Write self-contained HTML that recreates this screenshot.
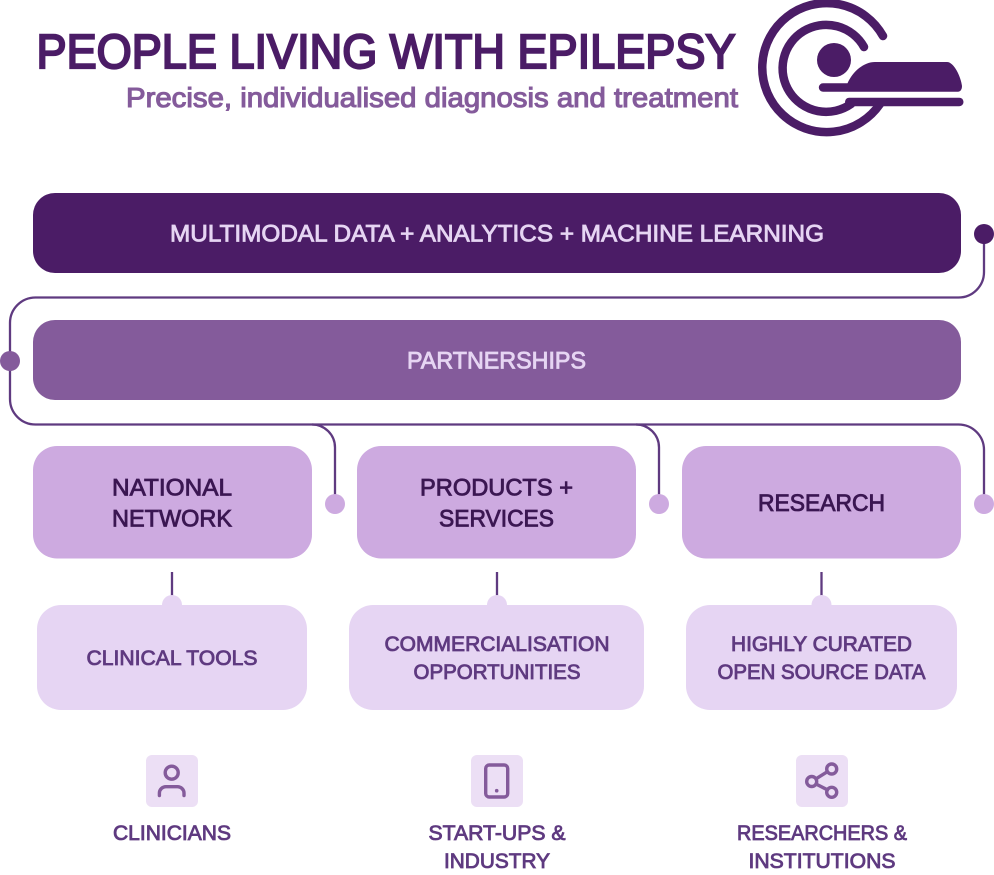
<!DOCTYPE html>
<html><head><meta charset="utf-8"><style>
html,body{margin:0;padding:0;background:#fff;width:994px;height:875px;overflow:hidden}
svg{display:block}
text{font-family:"Liberation Sans",sans-serif;text-anchor:middle}
.m{font-weight:400;stroke-width:.85px}
</style></head><body>
<svg width="994" height="875" viewBox="0 0 994 875" xmlns="http://www.w3.org/2000/svg">
<rect width="994" height="875" fill="#fff"/>
<text x="386" y="68" font-size="48.500" font-weight="400" fill="#4b1c66" stroke="#4b1c66" stroke-width="2.200" textLength="699" lengthAdjust="spacingAndGlyphs">PEOPLE LIVING WITH EPILEPSY</text>
<text x="432" y="107" font-size="27.500" font-weight="400" fill="#845b9b" stroke="#845b9b" stroke-width="1.100" textLength="612" lengthAdjust="spacingAndGlyphs">Precise, individualised diagnosis and treatment</text>
<!-- logo -->
<g fill="none" stroke="#4b1c66" stroke-width="8.500" stroke-linecap="round">
<path d="M883 36A64.500 64.500 0 1 0 880 104"/>
<path d="M864 47A43.500 43.500 0 1 0 851 104"/>
</g>
<circle cx="834" cy="60" r="17" fill="#4b1c66"/>
<path d="M823 83.300H847.500C853 71 864 62 875 62H947C954 62 961 77 962 86C962 90 960 91.700 958 91.700H823A4.200 4.200 0 0 1 823 83.300Z" fill="#4b1c66"/>
<rect x="845" y="97.700" width="118.500" height="8.500" rx="4.200" fill="#4b1c66"/>
<!-- connectors -->
<g fill="none" stroke="#5f3a80" stroke-width="2.300">
<path d="M984 234V272A25.500 25.500 0 0 1 958.500 297.500H35.500A25.500 25.500 0 0 0 10 323V399A25.500 25.500 0 0 0 35.500 424.500H958.500A25.500 25.500 0 0 1 984 450V504"/>
<path d="M312 424.500A23 23 0 0 1 335 447.500V504"/>
<path d="M636 424.500A23 23 0 0 1 659 447.500V504"/>
<path d="M172 572V597M497 572V597M821.500 572V597"/>
</g>
<circle cx="984" cy="234" r="10" fill="#4b1c66"/>
<circle cx="10" cy="361" r="10" fill="#845b9b"/>
<circle cx="335" cy="504" r="10" fill="#cdaae0"/>
<circle cx="659" cy="504" r="10" fill="#cdaae0"/>
<circle cx="984" cy="504" r="10" fill="#cdaae0"/>
<!-- bands -->
<rect x="33" y="193" width="928" height="80" rx="22" fill="#4b1c66"/>
<rect x="33" y="320" width="928" height="80" rx="22" fill="#845b9b"/>
<text x="497" y="241.500" font-size="24" class="m" fill="#e6d5f3" stroke="#e6d5f3" textLength="654" lengthAdjust="spacingAndGlyphs">MULTIMODAL DATA + ANALYTICS + MACHINE LEARNING</text>
<text x="496.500" y="368.500" font-size="24" class="m" fill="#e6d5f3" stroke="#e6d5f3" textLength="179" lengthAdjust="spacingAndGlyphs">PARTNERSHIPS</text>
<!-- row 1 -->
<rect x="33" y="446" width="279" height="112.500" rx="24" fill="#cdaae0"/>
<rect x="357" y="446" width="279" height="112.500" rx="24" fill="#cdaae0"/>
<rect x="682" y="446" width="279" height="112.500" rx="24" fill="#cdaae0"/>
<g font-size="24" fill="#3b1752" stroke="#3b1752" class="m">
<text x="172" y="495.500" textLength="120" lengthAdjust="spacingAndGlyphs">NATIONAL</text>
<text x="172" y="526.500" textLength="120" lengthAdjust="spacingAndGlyphs">NETWORK</text>
<text x="496.500" y="495.500" textLength="153" lengthAdjust="spacingAndGlyphs">PRODUCTS +</text>
<text x="496.500" y="526.500" textLength="115" lengthAdjust="spacingAndGlyphs">SERVICES</text>
<text x="821.500" y="511" textLength="127" lengthAdjust="spacingAndGlyphs">RESEARCH</text>
</g>
<!-- row 2 -->
<g fill="#e6d5f3">
<circle cx="172" cy="605" r="10"/><circle cx="497" cy="605" r="10"/><circle cx="821.500" cy="605" r="10"/>
<rect x="37" y="605" width="270" height="105" rx="24"/>
<rect x="349" y="605" width="295" height="105" rx="24"/>
<rect x="686" y="605" width="271" height="105" rx="24"/>
</g>
<g font-size="21" fill="#5f3a80" stroke="#5f3a80" class="m">
<text x="172" y="665" textLength="171" lengthAdjust="spacingAndGlyphs">CLINICAL TOOLS</text>
<text x="497" y="651" textLength="225" lengthAdjust="spacingAndGlyphs">COMMERCIALISATION</text>
<text x="497" y="679" textLength="167" lengthAdjust="spacingAndGlyphs">OPPORTUNITIES</text>
<text x="821.500" y="651" textLength="181" lengthAdjust="spacingAndGlyphs">HIGHLY CURATED</text>
<text x="821.500" y="679" textLength="208" lengthAdjust="spacingAndGlyphs">OPEN SOURCE DATA</text>
<text x="172" y="840" textLength="118" lengthAdjust="spacingAndGlyphs">CLINICIANS</text>
<text x="497" y="840" textLength="137" lengthAdjust="spacingAndGlyphs">START-UPS &amp;</text>
<text x="497" y="868" textLength="106" lengthAdjust="spacingAndGlyphs">INDUSTRY</text>
<text x="822" y="840" textLength="170" lengthAdjust="spacingAndGlyphs">RESEARCHERS &amp;</text>
<text x="822" y="868" textLength="147" lengthAdjust="spacingAndGlyphs">INSTITUTIONS</text>
</g>
<!-- icons -->
<g fill="#ecdff5">
<rect x="146" y="755" width="52" height="52" rx="6"/>
<rect x="471" y="755" width="52" height="52" rx="6"/>
<rect x="796" y="755" width="52" height="52" rx="6"/>
</g>
<g fill="none" stroke="#845b9b" stroke-width="3.400" stroke-linecap="round" stroke-linejoin="round">
<circle cx="171.700" cy="772.700" r="6.500"/>
<path d="M159.400 795.500V793A6.500 6.500 0 0 1 165.900 786.700H177.500A6.500 6.500 0 0 1 184 793V795.500"/>
<rect x="485.700" y="765" width="22" height="32" rx="3.500"/>
<circle cx="831.700" cy="769" r="5"/><circle cx="811.700" cy="781.500" r="5"/><circle cx="831.700" cy="792.300" r="5"/>
<path d="M816 778.800L827.400 771.700M816 784L827.400 789.800"/>
</g>
<circle cx="496.700" cy="790.700" r="1.800" fill="#845b9b"/>
</svg>
</body></html>
